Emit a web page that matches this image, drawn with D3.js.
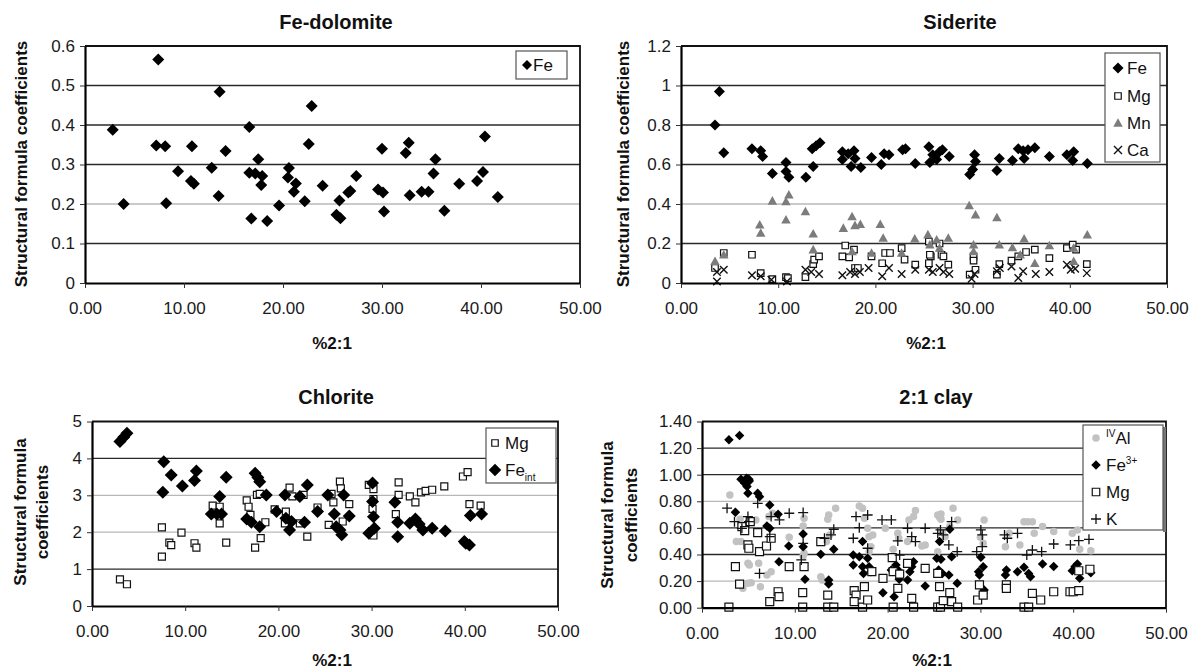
<!DOCTYPE html>
<html>
<head>
<meta charset="utf-8">
<script src="https://cdn.jsdelivr.net/npm/d3@7"></script>
<style>
body { margin: 0; background: #fff; }
svg { font-family: "Liberation Sans", Arial, sans-serif; }
</style>
</head>
<body>
<div class="svg-container"></div>
<script>
// ---- data ----
var xTicks = [0, 10, 20, 30, 40, 50];

// Fe-dolomite
var dolomiteYTicks = [0, 0.1, 0.2, 0.3, 0.4, 0.5, 0.6];
var dolomiteFe = [[2.8,0.388],[3.9,0.2],[7.4,0.566],[7.2,0.348],[8.1,0.346],[8.2,0.202],[9.4,0.283],
  [10.8,0.346],[10.7,0.258],[11.0,0.251],[12.8,0.292],[13.6,0.484],[13.5,0.22],[14.2,0.334],[16.6,0.395],
  [16.6,0.279],[16.8,0.163],[17.2,0.277],[17.5,0.313],[17.9,0.271],[17.8,0.248],[18.4,0.157],[19.6,0.196],
  [20.6,0.291],[20.5,0.267],[21.3,0.252],[21.1,0.231],[22.2,0.207],[22.6,0.352],[22.9,0.448],[24.0,0.246],
  [25.4,0.173],[25.7,0.209],[25.8,0.164],[26.6,0.229],[26.8,0.233],[27.4,0.271],[29.6,0.237],[30.0,0.34],
  [30.1,0.229],[30.2,0.181],[32.4,0.329],[32.7,0.355],[32.8,0.222],[34.0,0.231],[34.7,0.231],[35.2,0.277],
  [35.4,0.313],[36.3,0.183],[37.8,0.251],[39.6,0.258],[40.2,0.281],[40.4,0.371],[41.7,0.218]];

// Siderite
var sideriteYTicks = [0, 0.2, 0.4, 0.6, 0.8, 1, 1.2];
var sideriteFe = [[3.5,0.80],[3.95,0.97],[4.4,0.66],[7.3,0.68],[8.2,0.67],[8.4,0.64],[9.4,0.555],[10.8,0.61],
  [10.8,0.565],[11.1,0.535],[12.85,0.535],[13.6,0.59],[13.5,0.68],[13.9,0.695],[14.3,0.71],[16.6,0.665],
  [16.6,0.625],[17.2,0.655],[17.5,0.59],[17.8,0.67],[17.9,0.63],[18.5,0.585],[19.6,0.635],[20.6,0.60],
  [20.9,0.655],[21.4,0.65],[22.8,0.675],[23.1,0.68],[24.1,0.605],[25.5,0.69],[25.6,0.61],[25.9,0.65],
  [26.3,0.625],[26.6,0.665],[26.9,0.675],[27.6,0.64],[29.7,0.55],[30.0,0.575],[30.2,0.65],[30.3,0.615],
  [32.5,0.57],[32.75,0.63],[34.1,0.62],[34.7,0.68],[35.2,0.67],[35.3,0.63],[35.7,0.675],[36.4,0.685],
  [37.9,0.64],[39.7,0.65],[40.3,0.62],[40.4,0.665],[41.8,0.605]];
var sideriteMg = [[3.5,0.076],[4.4,0.152],[7.3,0.143],[8.2,0.05],[9.4,0.02],[10.8,0.03],[11.0,0.025],
  [12.8,0.03],[13.6,0.096],[13.7,0.118],[14.2,0.135],[16.6,0.135],[16.9,0.19],[17.3,0.13],[17.8,0.169],
  [17.9,0.076],[18.2,0.076],[19.6,0.135],[20.7,0.10],[21.0,0.152],[21.5,0.152],[22.7,0.177],[23.0,0.118],
  [24.1,0.093],[25.5,0.21],[25.7,0.135],[26.6,0.20],[25.6,0.143],[26.8,0.143],[27.0,0.135],[27.5,0.093],
  [25.5,0.10],[30.1,0.135],[30.1,0.113],[30.3,0.067],[29.7,0.042],[32.5,0.042],[32.75,0.096],[34.0,0.113],
  [34.7,0.135],[35.5,0.157],[36.4,0.169],[37.9,0.126],[39.7,0.177],[40.3,0.194],[40.65,0.169],[41.75,0.096]];
var sideriteMn = [[3.5,0.11],[4.4,0.143],[8.1,0.295],[8.2,0.253],[9.4,0.416],[10.8,0.413],[11.1,0.447],
  [10.8,0.32],[12.8,0.362],[13.6,0.25],[13.6,0.169],[16.7,0.278],[17.6,0.337],[17.9,0.292],[18.45,0.298],
  [20.5,0.298],[20.8,0.228],[19.6,0.152],[17.6,0.16],[22.7,0.152],[24.05,0.224],[25.4,0.245],[25.6,0.194],
  [26.3,0.219],[27.5,0.228],[26.6,0.177],[29.65,0.393],[30.3,0.346],[30.1,0.194],[30.1,0.16],[32.5,0.332],
  [32.75,0.194],[34.1,0.18],[35.3,0.224],[34.9,0.143],[36.4,0.10],[37.9,0.19],[40.4,0.177],[40.4,0.11],
  [41.8,0.244]];
var sideriteCa = [[3.7,0.056],[4.4,0.067],[3.7,0.008],[7.3,0.039],[8.2,0.034],[9.3,0.017],[10.9,0.008],
  [12.8,0.067],[13.4,0.056],[14.2,0.045],[16.6,0.039],[17.4,0.056],[17.9,0.045],[18.4,0.056],[19.3,0.076],
  [20.7,0.034],[21.4,0.076],[22.7,0.045],[24.1,0.067],[25.5,0.067],[25.9,0.056],[26.6,0.076],[27.0,0.056],
  [27.6,0.045],[29.9,0.022],[30.2,0.045],[32.5,0.059],[32.8,0.076],[34.0,0.084],[34.7,0.025],[35.2,0.059],
  [36.5,0.045],[37.9,0.056],[39.7,0.093],[40.1,0.067],[40.55,0.072],[41.75,0.05]];

// Chlorite
var chloriteYTicks = [0, 1, 2, 3, 4, 5];
var chloriteMg = [[3.0,0.72],[3.75,0.59],[7.5,1.34],[7.5,2.13],[8.3,1.72],[8.5,1.65],[9.6,1.99],[11.0,1.70],
  [11.2,1.58],[12.95,2.72],[13.7,2.69],[13.7,2.24],[14.4,1.72],[16.6,2.86],[16.8,2.69],[17.0,2.47],[17.5,1.58],
  [17.7,3.01],[18.0,3.04],[18.1,1.84],[18.6,2.27],[19.6,2.62],[20.8,2.56],[20.7,2.24],[21.2,3.21],[21.5,2.97],
  [22.3,2.24],[22.7,3.01],[23.1,1.88],[24.2,2.67],[25.4,2.20],[25.7,3.04],[25.9,2.81],[26.6,3.37],[26.7,3.19],
  [26.9,2.29],[27.6,2.76],[29.7,3.28],[30.2,3.17],[30.2,2.90],[30.1,2.63],[30.2,1.91],[32.6,2.49],[32.9,3.35],
  [32.9,3.01],[34.1,2.97],[34.7,2.81],[35.3,3.08],[35.8,3.12],[36.5,3.15],[37.8,3.24],[39.8,3.51],[40.3,3.63],
  [40.5,2.76],[41.7,2.72]];
var chloriteFeInt = [[3.0,4.46],[3.4,4.57],[3.75,4.68],[7.7,3.91],[7.6,3.08],[8.5,3.55],[9.7,3.25],[11.0,3.40],
  [11.2,3.66],[14.4,3.49],[13.7,2.97],[12.8,2.49],[13.4,2.49],[13.9,2.49],[16.6,2.36],[17.5,3.60],[18.0,3.37],
  [17.8,3.48],[17.1,2.27],[18.0,2.15],[18.7,3.01],[19.8,2.56],[20.7,3.01],[20.8,2.38],[21.2,2.06],[21.4,2.29],
  [22.3,2.97],[22.8,2.27],[23.1,3.28],[24.2,2.56],[25.3,3.01],[26.0,2.49],[26.2,2.15],[26.8,1.93],[26.6,2.06],
  [27.0,3.01],[27.6,2.44],[29.7,1.97],[30.1,3.33],[30.1,2.83],[30.2,2.42],[30.3,2.11],[32.5,2.81],[32.8,2.27],
  [32.8,1.88],[34.1,2.24],[34.7,2.36],[35.1,2.22],[35.5,2.06],[36.5,2.11],[37.9,2.03],[39.95,1.75],[40.1,1.70],
  [40.5,1.65],[40.6,2.45],[41.8,2.49]];

// 2:1 clay
var clayYTicks = [0, 0.2, 0.4, 0.6, 0.8, 1.0, 1.2, 1.4];
var clayAl = [[3.0,0.848],[4.1,0.665],[3.7,0.497],[4.2,0.497],[4.95,0.183],[5.3,0.188],[4.4,0.146],[4.95,0.334],
  [6.1,0.334],[6.3,0.158],[7.0,0.246],[7.45,0.271],[5.1,0.321],[5.8,0.66],[7.2,0.685],[7.6,0.71],[9.4,0.529],
  [10.9,0.615],[11.0,0.672],[10.9,0.389],[11.0,0.409],[12.8,0.233],[12.95,0.208],[13.4,0.497],[13.55,0.665],
  [13.65,0.697],[13.75,0.547],[14.4,0.748],[16.95,0.765],[17.3,0.748],[17.5,0.672],[17.85,0.597],[18.0,0.534],
  [18.4,0.547],[18.0,0.421],[18.2,0.459],[19.75,0.597],[20.6,0.439],[21.1,0.559],[21.2,0.522],[22.15,0.497],
  [22.3,0.66],[22.8,0.685],[23.0,0.73],[24.05,0.472],[25.4,0.697],[25.6,0.68],[25.9,0.572],[25.4,0.421],
  [25.75,0.705],[25.75,0.665],[27.05,0.748],[27.55,0.66],[26.2,0.534],[26.7,0.61],[23.7,0.464],[30.4,0.66],
  [30.0,0.529],[30.3,0.484],[33.1,0.559],[32.7,0.459],[34.25,0.472],[34.7,0.647],[35.1,0.647],[35.6,0.647],
  [35.8,0.559],[36.7,0.61],[37.9,0.572],[39.9,0.559],[40.45,0.585],[40.7,0.439],[41.9,0.429]];
var clayFe3 = [[2.9,1.262],[4.05,1.295],[4.2,0.966],[4.8,0.973],[5.05,0.966],[4.6,0.936],[4.85,0.911],[5.1,0.953],
  [4.95,0.86],[6.0,0.86],[6.2,0.835],[7.3,0.773],[3.6,0.718],[5.05,0.647],[8.2,0.702],[7.0,0.615],[7.3,0.597],
  [9.35,0.464],[10.9,0.554],[10.9,0.459],[11.1,0.213],[8.3,0.346],[12.8,0.401],[13.65,0.208],[13.65,0.178],
  [14.2,0.439],[17.3,0.497],[16.3,0.396],[16.3,0.321],[16.95,0.384],[17.3,0.308],[17.85,0.371],[18.0,0.308],
  [18.2,0.27],[17.4,0.258],[19.5,0.113],[20.4,0.283],[20.7,0.083],[20.9,0.321],[21.2,0.278],[21.25,0.213],
  [22.15,0.208],[22.6,0.308],[22.8,0.346],[22.4,0.271],[24.05,0.163],[25.3,0.371],[25.5,0.283],[25.6,0.497],
  [25.9,0.258],[26.7,0.59],[26.9,0.384],[25.75,0.364],[26.6,0.246],[27.5,0.183],[30.05,0.379],[30.3,0.308],
  [29.8,0.271],[29.9,0.246],[30.4,0.133],[30.3,0.108],[32.8,0.283],[32.7,0.246],[34.0,0.271],[34.7,0.304],
  [35.4,0.233],[35.2,0.258],[36.7,0.329],[37.9,0.309],[40.2,0.309],[40.45,0.329],[40.7,0.221],[39.9,0.278],
  [41.9,0.263]];
var clayMg = [[2.9,0.005],[3.6,0.309],[4.05,0.178],[4.3,0.61],[4.6,0.58],[4.95,0.472],[5.05,0.447],[5.2,0.647],
  [6.0,0.564],[6.2,0.421],[6.95,0.464],[7.45,0.522],[7.3,0.045],[8.2,0.12],[8.3,0.083],[9.4,0.309],[10.85,0.005],
  [10.85,0.113],[11.0,0.309],[12.8,0.497],[13.55,0.095],[13.55,0.005],[14.2,0.005],[16.4,0.128],[16.6,0.095],
  [16.4,0.045],[17.3,0.005],[17.5,0.158],[17.85,0.058],[18.3,0.271],[19.5,0.221],[20.5,0.376],[20.6,0.005],
  [20.6,0.271],[21.1,0.146],[21.3,0.253],[22.15,0.334],[22.8,0.005],[22.6,0.07],[24.05,0.296],[25.4,0.005],
  [25.6,0.158],[25.4,0.258],[25.7,0.005],[26.0,0.053],[26.7,0.113],[26.9,0.045],[27.55,0.005],[29.9,0.171],
  [29.7,0.058],[30.3,0.095],[32.8,0.171],[32.8,0.146],[34.7,0.005],[35.2,0.005],[35.6,0.108],[36.5,0.058],
  [37.9,0.12],[39.65,0.12],[40.0,0.12],[40.6,0.128],[40.6,0.278],[41.8,0.289]];
var clayK = [[2.7,0.748],[3.5,0.647],[4.3,0.597],[4.95,0.685],[5.05,0.647],[6.0,0.785],[6.2,0.258],[7.3,0.534],
  [7.45,0.685],[8.35,0.66],[9.4,0.71],[10.9,0.715],[10.9,0.484],[10.7,0.359],[13.2,0.522],[14.2,0.59],[13.9,0.547],
  [16.6,0.685],[16.3,0.522],[17.85,0.697],[16.95,0.602],[17.85,0.447],[19.4,0.66],[20.4,0.66],[21.1,0.502],
  [21.3,0.396],[22.15,0.597],[22.6,0.534],[23.0,0.497],[24.05,0.597],[25.4,0.559],[26.0,0.547],[25.7,0.585],
  [26.9,0.647],[26.6,0.472],[27.5,0.421],[30.05,0.585],[30.2,0.547],[30.2,0.459],[29.6,0.421],[32.6,0.547],
  [32.9,0.522],[34.0,0.559],[35.0,0.396],[35.6,0.434],[36.6,0.421],[37.9,0.479],[39.7,0.472],[40.6,0.504],
  [41.7,0.514]];

// ---- marker shapes (d3.symbol custom types, size = width^2) ----
var sym = {
  diamond: {draw: function(c, s) { var r = Math.sqrt(s) / 2;
    c.moveTo(0, -r); c.lineTo(r, 0); c.lineTo(0, r); c.lineTo(-r, 0); c.closePath(); }},
  square: {draw: function(c, s) { var r = Math.sqrt(s) / 2; c.rect(-r, -r, 2 * r, 2 * r); }},
  triangle: {draw: function(c, s) { var r = Math.sqrt(s) / 2;
    c.moveTo(0, -r); c.lineTo(r, r * 0.8); c.lineTo(-r, r * 0.8); c.closePath(); }},
  cross: {draw: function(c, s) { var r = Math.sqrt(s) / 2;
    c.moveTo(-r, -r); c.lineTo(r, r); c.moveTo(r, -r); c.lineTo(-r, r); }},
  plus: {draw: function(c, s) { var r = Math.sqrt(s) / 2;
    c.moveTo(-r, 0); c.lineTo(r, 0); c.moveTo(0, -r); c.lineTo(0, r); }},
  circle: {draw: function(c, s) { var r = Math.sqrt(s) / 2; c.moveTo(r, 0); c.arc(0, 0, r, 0, 2 * Math.PI); }}
};
var looks = {
  diamond:  {fill: "#000", stroke: "none", sw: 0},
  square:   {fill: "#fff", stroke: "#111", sw: 1.2},
  triangle: {fill: "#7c7c7c", stroke: "none", sw: 0},
  cross:    {fill: "none", stroke: "#111", sw: 1.4},
  plus:     {fill: "none", stroke: "#111", sw: 1.3},
  circle:   {fill: "#c2c2c2", stroke: "none", sw: 0}
};

var svg = d3.select(".svg-container").append("svg")
    .attr("width", 1200).attr("height", 671);

var panels = [
  {title: "Fe-dolomite", tx: 336, ty: 29, left: 85, right: 580, top: 46, bottom: 283,
   ymax: 0.6, yTicks: dolomiteYTicks, yFmt: d3.format("~g"), light: [0.2],
   xlab: [332, 349], ylab: {cy: 164, lines: [[21, "Structural formula coefficients"]]},
   series: [{name: [["Fe"]], shape: "diamond", size: 12, lsize: 10, data: dolomiteFe}],
   legend: {x: 516, y: 51, w: 51, h: 28, mx: 527, tx: 533, ys: [65]}},
  {title: "Siderite", tx: 960, ty: 29, left: 681, right: 1167, top: 46, bottom: 283,
   ymax: 1.2, yTicks: sideriteYTicks, yFmt: d3.format("~g"), light: [0.4],
   xlab: [926, 349], ylab: {cy: 164, lines: [[623, "Structural formula coefficients"]]},
   series: [{name: [["Fe"]], shape: "diamond", size: 11, lsize: 11, data: sideriteFe},
            {name: [["Mg"]], shape: "square", size: 6.5, lsize: 6.5, data: sideriteMg},
            {name: [["Mn"]], shape: "triangle", size: 9.5, lsize: 9.5, data: sideriteMn},
            {name: [["Ca"]], shape: "cross", size: 7.5, lsize: 8, data: sideriteCa}],
   legend: {x: 1105, y: 53, w: 55, h: 109, mx: 1118, tx: 1127, ys: [68, 96, 123, 150]}},
  {title: "Chlorite", tx: 336, ty: 404, left: 92, right: 558, top: 421.5, bottom: 606,
   ymax: 5, yTicks: chloriteYTicks, yFmt: d3.format("~g"), light: [2, 3],
   xlab: [332, 666], ylab: {cy: 512, lines: [[20, "Structural formula"], [42, "coefficients"]]},
   series: [{name: [["Mg"]], shape: "square", size: 7, lsize: 6.5, data: chloriteMg},
            {name: [["Fe"], ["int", "sub"]], shape: "diamond", size: 13, lsize: 12.5, data: chloriteFeInt}],
   legend: {x: 486, y: 428, w: 70, h: 55, mx: 495, tx: 505, ys: [443, 470]}},
  {title: "2:1 clay", tx: 936, ty: 404, left: 702, right: 1166, top: 421.5, bottom: 607.7,
   ymax: 1.4, yTicks: clayYTicks, yFmt: d3.format(".2f"), light: [0.2, 0.8],
   xlab: [932, 666], ylab: {cy: 515, lines: [[607, "Structural formula"], [631, "coefficients"]]},
   series: [{name: [["IV", "sup"], ["Al"]], shape: "circle", size: 7.5, lsize: 7.5, data: clayAl},
            {name: [["Fe"], ["3+", "sup"]], shape: "diamond", size: 9.5, lsize: 9.5, data: clayFe3},
            {name: [["Mg"]], shape: "square", size: 8, lsize: 7.5, data: clayMg},
            {name: [["K"]], shape: "plus", size: 10, lsize: 10, data: clayK}],
   legend: {x: 1083, y: 425, w: 80, h: 105, mx: 1096, tx: 1106, ys: [438, 465, 492, 519], shadow: true}}
];

function styleMarks(sel, shape) {
  var lk = looks[shape];
  sel.attr("fill", lk.fill).attr("stroke", lk.stroke).attr("stroke-width", lk.sw);
}

function drawPanel(p) {
  var x = d3.scaleLinear().domain([0, 50]).range([p.left, p.right]);
  var y = d3.scaleLinear().domain([0, p.ymax]).range([p.bottom, p.top]);
  var g = svg.append("g");

  // horizontal gridlines
  g.selectAll("line.grid")
    .data(p.yTicks.filter(v => v > 0 && v < p.ymax))
    .join("line")
    .attr("class", "grid")
    .attr("x1", p.left).attr("x2", p.right)
    .attr("y1", d => y(d)).attr("y2", d => y(d))
    .attr("stroke", d => p.light.indexOf(d) >= 0 ? "#b8b8b8" : "#2a2a2a")
    .attr("stroke-width", 1.3);

  // top and right frame
  g.append("path")
    .attr("d", "M" + p.left + "," + y(p.ymax) + "H" + p.right + "V" + p.bottom)
    .attr("fill", "none").attr("stroke", "#111").attr("stroke-width", 1.8);

  // points
  p.series.forEach(function(s) {
    g.append("g").selectAll("path")
      .data(s.data)
      .join("path")
      .attr("transform", d => "translate(" + x(d[0]) + "," + y(d[1]) + ")")
      .attr("d", d3.symbol().type(sym[s.shape]).size(s.size * s.size))
      .call(styleMarks, s.shape);
  });

  // axes
  var xa = g.append("g")
    .attr("transform", "translate(0," + p.bottom + ")")
    .call(d3.axisBottom(x).tickValues(xTicks).tickFormat(d3.format(".2f"))
      .tickSize(5).tickSizeOuter(0).tickPadding(14));
  var ya = g.append("g")
    .attr("transform", "translate(" + p.left + ",0)")
    .call(d3.axisLeft(y).tickValues(p.yTicks).tickFormat(p.yFmt)
      .tickSize(5).tickSizeOuter(0).tickPadding(5));
  [xa, ya].forEach(function(a) {
    a.attr("font-family", null).attr("font-size", 17);
    a.select(".domain").attr("stroke", "#000").attr("stroke-width", 2.2);
    a.selectAll(".tick line").attr("stroke", "#333").attr("stroke-width", 1);
    a.selectAll(".tick text").attr("fill", "#1a1a1a");
  });

  // titles
  g.append("text").attr("x", p.tx).attr("y", p.ty)
    .attr("text-anchor", "middle").attr("font-weight", "bold").attr("font-size", 20)
    .attr("fill", "#111").text(p.title);
  g.append("text").attr("x", p.xlab[0]).attr("y", p.xlab[1])
    .attr("text-anchor", "middle").attr("font-weight", "bold").attr("font-size", 17)
    .attr("fill", "#111").text("%2:1");
  p.ylab.lines.forEach(function(l) {
    g.append("text")
      .attr("transform", "translate(" + l[0] + "," + p.ylab.cy + ") rotate(-90)")
      .attr("text-anchor", "middle").attr("dy", "0.36em")
      .attr("font-weight", "bold").attr("font-size", 17).attr("fill", "#111")
      .text(l[1]);
  });

  // legend
  var L = p.legend;
  if (L.shadow) {
    g.append("rect").attr("x", L.x + L.w).attr("y", L.y + 2).attr("width", 3).attr("height", L.h)
      .attr("fill", "#777");
  }
  g.append("rect").attr("x", L.x).attr("y", L.y).attr("width", L.w).attr("height", L.h)
    .attr("fill", "#fff").attr("stroke", "#555").attr("stroke-width", 1.2);
  p.series.forEach(function(s, i) {
    g.append("path")
      .attr("transform", "translate(" + L.mx + "," + L.ys[i] + ")")
      .attr("d", d3.symbol().type(sym[s.shape]).size(s.lsize * s.lsize))
      .call(styleMarks, s.shape);
    var t = g.append("text").attr("x", L.tx).attr("y", L.ys[i] + 6)
      .attr("font-size", 17).attr("fill", "#111");
    var shift = 0;
    s.name.forEach(function(part) {
      var ts = t.append("tspan").text(part[0]);
      var want = part[1] === "sub" ? 5 : part[1] === "sup" ? -7 : 0;
      if (part[1]) ts.attr("font-size", 10);
      ts.attr("dy", want - shift);
      shift = want;
    });
  });
}

panels.forEach(drawPanel);
</script>
</body>
</html>
